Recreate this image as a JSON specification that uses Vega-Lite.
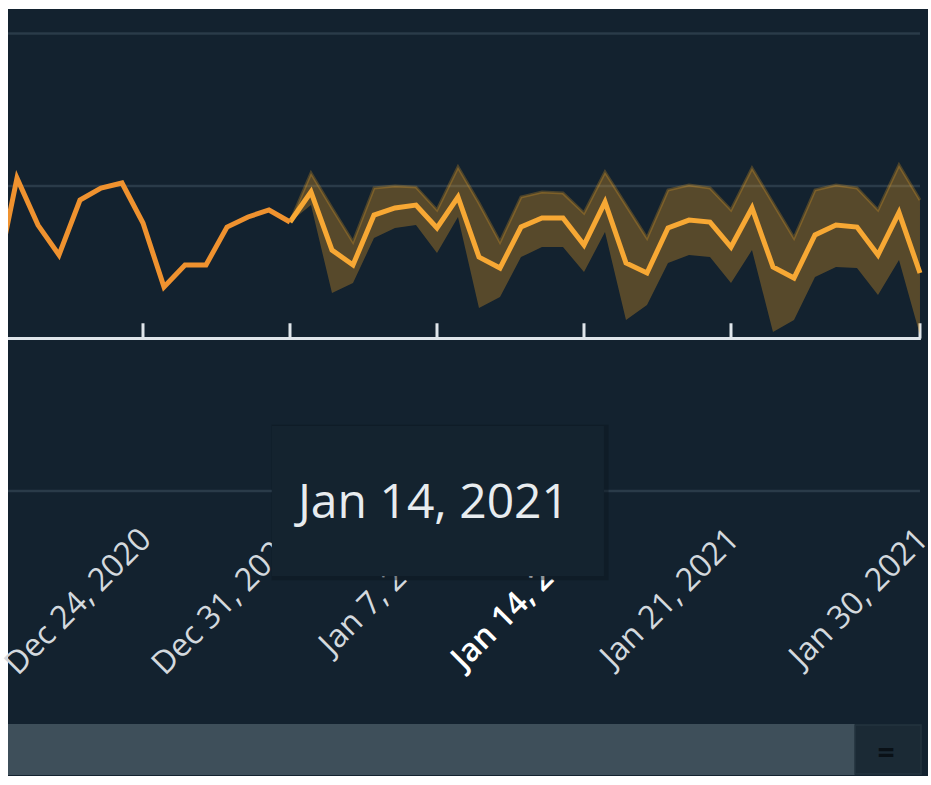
{
  "$schema": "https://vega.github.io/schema/vega-lite/v6.json",
  "width": 920,
  "height": 767,
  "autosize": {"type": "none"},
  "padding": {"left": 8, "top": 9, "right": 3, "bottom": 9},
  "background": "#ffffff",
  "config": {"view": {"fill": "#13222f", "stroke": null}},
  "datasets": {
    "actual": [
      {"date": "2020-12-17", "value": 38.0},
      {"date": "2020-12-18", "value": 105.2},
      {"date": "2020-12-19", "value": 74.4},
      {"date": "2020-12-20", "value": 54.8},
      {"date": "2020-12-21", "value": 90.8},
      {"date": "2020-12-22", "value": 98.7},
      {"date": "2020-12-23", "value": 102.0},
      {"date": "2020-12-24", "value": 75.7},
      {"date": "2020-12-25", "value": 33.8},
      {"date": "2020-12-26", "value": 48.2},
      {"date": "2020-12-27", "value": 48.2},
      {"date": "2020-12-28", "value": 73.1},
      {"date": "2020-12-29", "value": 79.7},
      {"date": "2020-12-30", "value": 84.3},
      {"date": "2020-12-31", "value": 76.4}
    ],
    "forecast": [
      {"date": "2020-12-31", "value": 76.4, "lower": 76.4, "upper": 76.4},
      {"date": "2021-01-01", "value": 96.1, "lower": 87.5, "upper": 108.5},
      {"date": "2021-01-02", "value": 58.0, "lower": 29.8, "upper": 85.6},
      {"date": "2021-01-03", "value": 48.2, "lower": 36.4, "upper": 63.3},
      {"date": "2021-01-04", "value": 81.0, "lower": 65.9, "upper": 98.7},
      {"date": "2021-01-05", "value": 85.6, "lower": 72.5, "upper": 100.0},
      {"date": "2021-01-06", "value": 87.5, "lower": 74.4, "upper": 99.3},
      {"date": "2021-01-07", "value": 72.5, "lower": 56.1, "upper": 84.3},
      {"date": "2021-01-08", "value": 92.8, "lower": 79.7, "upper": 112.5},
      {"date": "2021-01-09", "value": 53.4, "lower": 20.0, "upper": 88.9},
      {"date": "2021-01-10", "value": 46.2, "lower": 27.2, "upper": 63.3},
      {"date": "2021-01-11", "value": 73.1, "lower": 53.4, "upper": 92.8},
      {"date": "2021-01-12", "value": 79.0, "lower": 60.0, "upper": 96.1},
      {"date": "2021-01-13", "value": 79.0, "lower": 60.0, "upper": 95.4},
      {"date": "2021-01-14", "value": 61.3, "lower": 43.6, "upper": 82.3},
      {"date": "2021-01-15", "value": 89.5, "lower": 69.8, "upper": 109.2},
      {"date": "2021-01-16", "value": 49.5, "lower": 12.1, "upper": 87.5},
      {"date": "2021-01-17", "value": 43.0, "lower": 22.0, "upper": 65.9},
      {"date": "2021-01-18", "value": 72.5, "lower": 49.5, "upper": 97.4},
      {"date": "2021-01-19", "value": 77.7, "lower": 54.8, "upper": 100.7},
      {"date": "2021-01-20", "value": 76.4, "lower": 53.4, "upper": 98.7},
      {"date": "2021-01-21", "value": 60.0, "lower": 36.4, "upper": 84.3},
      {"date": "2021-01-22", "value": 85.6, "lower": 58.0, "upper": 111.8},
      {"date": "2021-01-23", "value": 46.9, "lower": 4.3, "upper": 88.9},
      {"date": "2021-01-24", "value": 39.7, "lower": 12.1, "upper": 65.9},
      {"date": "2021-01-25", "value": 67.9, "lower": 40.3, "upper": 97.4},
      {"date": "2021-01-26", "value": 74.4, "lower": 46.9, "upper": 100.7},
      {"date": "2021-01-27", "value": 73.1, "lower": 46.2, "upper": 98.7},
      {"date": "2021-01-28", "value": 54.8, "lower": 28.5, "upper": 84.3},
      {"date": "2021-01-29", "value": 82.6, "lower": 51.5, "upper": 113.8},
      {"date": "2021-01-30", "value": 43.0, "lower": 2.3, "upper": 90.8}
    ],
    "ticks": [
      {"date": "2020-12-24", "label": "Dec 24, 2020", "hover": false},
      {"date": "2020-12-31", "label": "Dec 31, 2020", "hover": false},
      {"date": "2021-01-07", "label": "Jan 7, 2021", "hover": false},
      {"date": "2021-01-14", "label": "Jan 14, 2021", "hover": true},
      {"date": "2021-01-21", "label": "Jan 21, 2021", "hover": false},
      {"date": "2021-01-30", "label": "Jan 30, 2021", "hover": false}
    ],
    "grid": [
      {"level": -100},
      {"level": 100},
      {"level": 200}
    ],
    "one": [{}]
  },
  "layer": [
    {
      "data": {"name": "grid"},
      "mark": {"type": "rule", "color": "#2a3b49", "strokeWidth": 2.5, "clip": true},
      "encoding": {
        "x": {"datum": {"year": 2020, "month": 12, "date": 17, "utc": true}, "type": "temporal", "axis": null, "scale": {"type": "utc", "domain": [{"year": 2020, "month": 12, "date": 17, "hours": 13, "minutes": 43, "utc": true}, {"year": 2021, "month": 1, "date": 30, "hours": 9, "minutes": 9, "utc": true}], "nice": false}},
        "x2": {"datum": {"year": 2021, "month": 1, "date": 30, "utc": true}},
        "y": {"field": "level", "type": "quantitative", "axis": null, "scale": {"domain": [-286.9, 216.1], "nice": false, "zero": false}}
      }
    },
    {
      "data": {"name": "ticks"},
      "transform": [{"filter": "!datum.hover"}],
      "mark": {"type": "text", "font": "Open Sans", "fontSize": 32, "color": "#d3d9de", "angle": -45, "align": "right", "baseline": "middle", "dx": 4},
      "encoding": {
        "x": {"field": "date", "type": "temporal", "axis": null},
        "y": {"datum": -130.2, "type": "quantitative", "axis": null},
        "text": {"field": "label", "type": "nominal"}
      }
    },
    {
      "data": {"name": "ticks"},
      "transform": [{"filter": "datum.hover"}],
      "mark": {"type": "text", "font": "Open Sans", "fontSize": 32, "fontWeight": 600, "color": "#ffffff", "angle": -45, "align": "right", "baseline": "middle", "dx": 4},
      "encoding": {
        "x": {"field": "date", "type": "temporal", "axis": null},
        "y": {"datum": -130.2, "type": "quantitative", "axis": null},
        "text": {"field": "label", "type": "nominal"}
      }
    },
    {
      "data": {"name": "ticks"},
      "mark": {"type": "rule", "color": "#dfe5ea", "strokeWidth": 3},
      "encoding": {
        "x": {"field": "date", "type": "temporal", "axis": null},
        "y": {"datum": 0, "type": "quantitative", "axis": null},
        "y2": {"datum": 10}
      }
    },
    {
      "data": {"name": "one"},
      "mark": {"type": "rule", "color": "#dfe5ea", "strokeWidth": 3, "clip": true},
      "encoding": {
        "x": {"datum": {"year": 2020, "month": 12, "date": 17, "utc": true}, "type": "temporal", "axis": null},
        "x2": {"datum": {"year": 2021, "month": 1, "date": 30, "hours": 1, "utc": true}},
        "y": {"datum": 0, "type": "quantitative", "axis": null}
      }
    },
    {
      "data": {"name": "forecast"},
      "mark": {"type": "area", "color": "#f5a623", "opacity": 0.3, "clip": true},
      "encoding": {
        "x": {"field": "date", "type": "temporal", "axis": null},
        "y": {"field": "lower", "type": "quantitative", "axis": null},
        "y2": {"field": "upper"}
      }
    },
    {
      "data": {"name": "forecast"},
      "mark": {"type": "line", "color": "#f5a623", "opacity": 0.25, "strokeWidth": 3, "clip": true},
      "encoding": {
        "x": {"field": "date", "type": "temporal", "axis": null},
        "y": {"field": "upper", "type": "quantitative", "axis": null}
      }
    },
    {
      "data": {"name": "forecast"},
      "mark": {"type": "line", "color": "#f7a834", "strokeWidth": 5, "strokeJoin": "miter", "clip": true},
      "encoding": {
        "x": {"field": "date", "type": "temporal", "axis": null},
        "y": {"field": "value", "type": "quantitative", "axis": null}
      }
    },
    {
      "data": {"name": "actual"},
      "mark": {"type": "line", "color": "#ef922f", "strokeWidth": 5, "strokeJoin": "miter", "clip": true},
      "encoding": {
        "x": {"field": "date", "type": "temporal", "axis": null},
        "y": {"field": "value", "type": "quantitative", "axis": null}
      }
    },
    {
      "data": {"name": "one"},
      "mark": {"type": "rect", "color": "#0c1720", "opacity": 0.45},
      "encoding": {
        "x": {"datum": {"year": 2020, "month": 12, "date": 30, "hours": 3, "utc": true}, "type": "temporal", "axis": null},
        "x2": {"datum": {"year": 2021, "month": 1, "date": 15, "hours": 4, "utc": true}},
        "y": {"datum": -56.5, "type": "quantitative", "axis": null},
        "y2": {"datum": -158.5}
      }
    },
    {
      "data": {"name": "one"},
      "mark": {"type": "rect", "color": "#14232f"},
      "encoding": {
        "x": {"datum": {"year": 2020, "month": 12, "date": 30, "hours": 3, "minutes": 26, "utc": true}, "type": "temporal", "axis": null},
        "x2": {"datum": {"year": 2021, "month": 1, "date": 14, "hours": 22, "minutes": 51, "utc": true}},
        "y": {"datum": -57.4, "type": "quantitative", "axis": null},
        "y2": {"datum": -155.7}
      }
    },
    {
      "data": {"name": "one"},
      "mark": {"type": "text", "font": "Open Sans", "fontSize": 48, "color": "#e8ecef", "align": "center", "baseline": "alphabetic"},
      "encoding": {
        "x": {"datum": {"year": 2021, "month": 1, "date": 6, "hours": 20, "utc": true}, "type": "temporal", "axis": null},
        "y": {"datum": -117.7, "type": "quantitative", "axis": null},
        "text": {"value": "Jan 14, 2021"}
      }
    },
    {
      "data": {"name": "one"},
      "mark": {"type": "rect", "color": "#3e4f5a", "clip": true},
      "encoding": {
        "x": {"datum": {"year": 2020, "month": 12, "date": 17, "utc": true}, "type": "temporal", "axis": null},
        "x2": {"datum": {"year": 2021, "month": 1, "date": 26, "hours": 21, "minutes": 43, "utc": true}},
        "y": {"datum": -252.8, "type": "quantitative", "axis": null},
        "y2": {"datum": -286.2}
      }
    },
    {
      "data": {"name": "one"},
      "mark": {"type": "rect", "color": "#1b2a35", "stroke": "#24343f", "strokeWidth": 1.5},
      "encoding": {
        "x": {"datum": {"year": 2021, "month": 1, "date": 26, "hours": 21, "minutes": 43, "utc": true}, "type": "temporal", "axis": null},
        "x2": {"datum": {"year": 2021, "month": 1, "date": 30, "hours": 1, "minutes": 10, "utc": true}},
        "y": {"datum": -253.5, "type": "quantitative", "axis": null},
        "y2": {"datum": -285.6}
      }
    },
    {
      "data": {"name": "one"},
      "mark": {"type": "text", "font": "Open Sans", "fontSize": 30, "fontWeight": "bold", "color": "#0a1117", "align": "center", "baseline": "middle"},
      "encoding": {
        "x": {"datum": {"year": 2021, "month": 1, "date": 28, "hours": 9, "minutes": 9, "utc": true}, "type": "temporal", "axis": null},
        "y": {"datum": -272.5, "type": "quantitative", "axis": null},
        "text": {"value": "="}
      }
    }
  ]
}
